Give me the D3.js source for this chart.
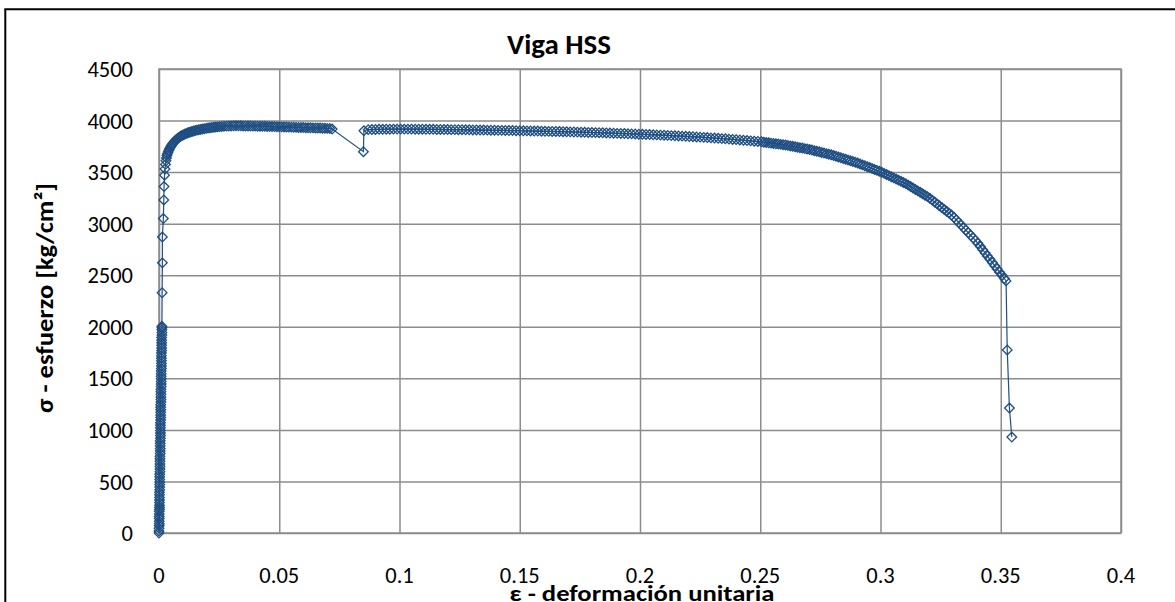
<!DOCTYPE html>
<html>
<head>
<meta charset="utf-8">
<script src="https://cdn.jsdelivr.net/npm/d3@7"></script>
<style>
  html, body { margin: 0; padding: 0; background: #fff; overflow: hidden; }
  svg { display: block; }
  text { font-family: Carlito, Calibri, Lato, "Open Sans", sans-serif; fill: #000; }
</style>
</head>
<body>
<svg id="chart" width="1175" height="602"></svg>
<script>
// ---- data ----
const title = "Viga HSS";
const xLabel = "ε - deformación unitaria";
const yLabel = "σ - esfuerzo [kg/cm²]";
const xTicks = [0, 0.05, 0.1, 0.15, 0.2, 0.25, 0.3, 0.35, 0.4];
const xTickLabels = ["0", "0.05", "0.1", "0.15", "0.2", "0.25", "0.3", "0.35", "0.4"];
const yTicks = [0, 500, 1000, 1500, 2000, 2500, 3000, 3500, 4000, 4500];

// elastic branch (dense readings)
const strainElastic = [
  0.0000, 0.0000, 0.0000, 0.0001, 0.0001, 0.0001, 0.0001, 0.0001, 0.0001, 0.0001,
  0.0002, 0.0002, 0.0002, 0.0002, 0.0002, 0.0002, 0.0002, 0.0002, 0.0003, 0.0003,
  0.0003, 0.0003, 0.0003, 0.0003, 0.0003, 0.0004, 0.0004, 0.0004, 0.0004, 0.0004,
  0.0004, 0.0004, 0.0005, 0.0005, 0.0005, 0.0005, 0.0005, 0.0005, 0.0006, 0.0006,
  0.0006, 0.0006, 0.0006, 0.0006, 0.0006, 0.0007, 0.0007, 0.0007, 0.0007, 0.0007,
  0.0007, 0.0007, 0.0008, 0.0008, 0.0008, 0.0008, 0.0008, 0.0008, 0.0009, 0.0009,
  0.0009, 0.0009, 0.0009, 0.0009, 0.0009, 0.0010, 0.0010, 0.0010, 0.0010, 0.0010,
  0.0010, 0.0010, 0.0011, 0.0011, 0.0011, 0.0011, 0.0011, 0.0011, 0.0012, 0.0012,
  0.0012, 0.0012, 0.0012];
const stressElastic = [
  0, 20, 45, 70, 90, 115, 140, 160, 185, 210,
  230, 250, 270, 295, 320, 345, 370, 395, 420, 445,
  470, 495, 520, 545, 570, 595, 620, 645, 670, 695,
  720, 745, 770, 795, 820, 845, 870, 895, 920, 945,
  970, 995, 1020, 1045, 1070, 1095, 1120, 1145, 1170, 1195,
  1220, 1245, 1270, 1295, 1320, 1345, 1370, 1395, 1420, 1445,
  1470, 1495, 1520, 1545, 1570, 1595, 1620, 1645, 1670, 1695,
  1720, 1745, 1770, 1795, 1820, 1845, 1870, 1895, 1920, 1945,
  1970, 1990, 2005];

// yielding and first plateau
const strainYield = [
  0.0013, 0.0014, 0.0014, 0.0018, 0.0020, 0.0021, 0.0023, 0.0025, 0.0027, 0.0029,
  0.0031, 0.0033, 0.0035, 0.0038, 0.0041, 0.0044, 0.0047, 0.0050, 0.0053, 0.0056,
  0.0060, 0.0064, 0.0068, 0.0072, 0.0076, 0.0080, 0.0085, 0.0090, 0.0095, 0.0100,
  0.0106, 0.0112, 0.0118, 0.0124, 0.0130, 0.0137, 0.0144, 0.0151, 0.0158, 0.0165,
  0.0172, 0.0180, 0.0188, 0.0196, 0.0204, 0.0212, 0.0220, 0.0228, 0.0236, 0.0244,
  0.0252, 0.0260, 0.0270, 0.0280, 0.0290, 0.0300, 0.0310, 0.0320, 0.0330, 0.0340,
  0.0350, 0.0360, 0.0370, 0.0380, 0.0390, 0.0400, 0.0410, 0.0420, 0.0430, 0.0440,
  0.0450, 0.0460, 0.0470, 0.0480, 0.0490, 0.0500, 0.0510, 0.0520, 0.0530, 0.0540,
  0.0550, 0.0560, 0.0570, 0.0580, 0.0590, 0.0600, 0.0610, 0.0620, 0.0630, 0.0640,
  0.0650, 0.0660, 0.0670, 0.0680, 0.0690, 0.0700, 0.0710, 0.0720];
const stressYield = [
  2330, 2620, 2870, 3050, 3230, 3360, 3470, 3530, 3575, 3610,
  3638, 3660, 3678, 3695, 3712, 3727, 3740, 3752, 3763, 3773,
  3785, 3796, 3806, 3815, 3823, 3831, 3839, 3847, 3854, 3860,
  3867, 3873, 3879, 3884, 3889, 3894, 3899, 3903, 3907, 3911,
  3914, 3918, 3921, 3924, 3927, 3930, 3933, 3935, 3937, 3939,
  3941, 3943, 3945, 3946, 3947, 3948, 3949, 3949, 3949, 3949,
  3948, 3948, 3947, 3947, 3946, 3946, 3945, 3945, 3944, 3944,
  3943, 3942, 3942, 3941, 3940, 3939, 3939, 3938, 3937, 3936,
  3936, 3935, 3934, 3933, 3933, 3932, 3931, 3930, 3930, 3929,
  3928, 3927, 3927, 3926, 3925, 3924, 3923, 3918];

// drop / recovery
const strainGap = [0.0850, 0.0852];
const stressGap = [3698, 3901];

// second plateau
const strainPlateau = [
  0.0870, 0.0885, 0.0900, 0.0915, 0.0930, 0.0945, 0.0960, 0.0975, 0.0990, 0.1005,
  0.1020, 0.1035, 0.1050, 0.1065, 0.1080, 0.1095, 0.1110, 0.1125, 0.1140, 0.1155,
  0.1170, 0.1185, 0.1200, 0.1215, 0.1230, 0.1245, 0.1260, 0.1275, 0.1290, 0.1305,
  0.1320, 0.1335, 0.1350, 0.1365, 0.1380, 0.1395, 0.1410, 0.1425, 0.1440, 0.1455,
  0.1470, 0.1485, 0.1500, 0.1515, 0.1530, 0.1545, 0.1560, 0.1575, 0.1590, 0.1605,
  0.1620, 0.1635, 0.1650, 0.1665, 0.1680, 0.1695, 0.1710, 0.1725, 0.1740, 0.1755,
  0.1770, 0.1785, 0.1800, 0.1815, 0.1830, 0.1845, 0.1860, 0.1875, 0.1890, 0.1905,
  0.1920, 0.1935, 0.1950, 0.1965, 0.1980, 0.1995, 0.2010, 0.2025, 0.2040, 0.2055,
  0.2070, 0.2085, 0.2100, 0.2115, 0.2130, 0.2145, 0.2160, 0.2175, 0.2190, 0.2205,
  0.2220, 0.2235, 0.2250, 0.2265, 0.2280, 0.2295, 0.2310, 0.2325, 0.2340, 0.2355,
  0.2370, 0.2385, 0.2400, 0.2415, 0.2430, 0.2445, 0.2460, 0.2475, 0.2490, 0.2505];
const stressPlateau = [
  3912, 3913, 3914, 3915, 3915, 3916, 3916, 3917, 3917, 3917,
  3917, 3917, 3917, 3916, 3916, 3916, 3915, 3915, 3915, 3914,
  3914, 3913, 3913, 3912, 3912, 3911, 3911, 3910, 3910, 3909,
  3909, 3908, 3908, 3907, 3906, 3906, 3905, 3905, 3904, 3903,
  3903, 3902, 3901, 3901, 3900, 3899, 3898, 3898, 3897, 3896,
  3895, 3894, 3894, 3893, 3892, 3891, 3890, 3889, 3888, 3887,
  3886, 3885, 3884, 3883, 3882, 3881, 3880, 3879, 3877, 3876,
  3875, 3874, 3872, 3871, 3870, 3868, 3867, 3865, 3864, 3862,
  3861, 3859, 3858, 3856, 3854, 3852, 3851, 3849, 3847, 3845,
  3843, 3841, 3839, 3837, 3835, 3832, 3830, 3828, 3825, 3823,
  3820, 3817, 3815, 3812, 3809, 3806, 3803, 3800, 3797, 3794];

// softening / necking branch
const strainNeck = [
  0.2515, 0.2525, 0.2535, 0.2545, 0.2555, 0.2565, 0.2575, 0.2585, 0.2595, 0.2605,
  0.2615, 0.2625, 0.2635, 0.2645, 0.2655, 0.2665, 0.2675, 0.2685, 0.2695, 0.2705,
  0.2715, 0.2725, 0.2735, 0.2745, 0.2755, 0.2765, 0.2775, 0.2785, 0.2795, 0.2805,
  0.2815, 0.2825, 0.2835, 0.2845, 0.2855, 0.2865, 0.2875, 0.2885, 0.2895, 0.2905,
  0.2915, 0.2925, 0.2935, 0.2945, 0.2955, 0.2965, 0.2975, 0.2985, 0.2995, 0.3005,
  0.3015, 0.3025, 0.3035, 0.3045, 0.3055, 0.3065, 0.3075, 0.3085, 0.3095, 0.3105,
  0.3115, 0.3125, 0.3135, 0.3145, 0.3155, 0.3165, 0.3175, 0.3185, 0.3195, 0.3205,
  0.3215, 0.3225, 0.3235, 0.3245, 0.3255, 0.3265, 0.3275, 0.3285, 0.3295, 0.3305,
  0.3315, 0.3325, 0.3335, 0.3345, 0.3355, 0.3365, 0.3375, 0.3385, 0.3395, 0.3405,
  0.3415, 0.3425, 0.3435, 0.3445, 0.3455, 0.3465, 0.3475, 0.3485, 0.3495, 0.3505,
  0.3515, 0.3522];
const stressNeck = [
  3790, 3787, 3784, 3781, 3778, 3775, 3772, 3769, 3766, 3763,
  3759, 3754, 3750, 3746, 3741, 3737, 3733, 3728, 3724, 3719,
  3714, 3708, 3702, 3697, 3691, 3685, 3679, 3674, 3668, 3661,
  3654, 3647, 3639, 3632, 3625, 3617, 3610, 3603, 3596, 3588,
  3579, 3570, 3561, 3552, 3544, 3535, 3526, 3517, 3508, 3499,
  3488, 3477, 3466, 3455, 3444, 3433, 3422, 3411, 3400, 3388,
  3374, 3360, 3346, 3332, 3318, 3304, 3290, 3276, 3262, 3246,
  3228, 3210, 3192, 3174, 3156, 3138, 3120, 3102, 3084, 3062,
  3037, 3012, 2987, 2962, 2937, 2912, 2887, 2862, 2837, 2809,
  2778, 2747, 2716, 2685, 2654, 2623, 2592, 2561, 2530, 2499,
  2468, 2445];

// fracture
const strainFracture = [0.3527, 0.3536, 0.3546];
const stressFracture = [1775, 1212, 931];

// ---- build series ----
const strain = [].concat(strainElastic, strainYield, strainGap, strainPlateau, strainNeck, strainFracture);
const stress = [].concat(stressElastic, stressYield, stressGap, stressPlateau, stressNeck, stressFracture);
const points = strain.map((e, i) => ({ e: e, s: stress[i] }));

// ---- layout ----
const svg = d3.select("#chart");
const plot = { left: 159, top: 69, right: 1121, bottom: 533 };
const lineColor = "#1f4e82";

// outer chart border (left and top edges are the only visible ones)
svg.append("line").attr("x1", 5.3).attr("y1", 9.3).attr("x2", 5.3).attr("y2", 610)
  .attr("stroke", "#000").attr("stroke-width", 2);
svg.append("line").attr("x1", 4.3).attr("y1", 9.3).attr("x2", 1180).attr("y2", 9.3)
  .attr("stroke", "#000").attr("stroke-width", 2);

const x = d3.scaleLinear().domain([0, 0.4]).range([plot.left, plot.right]);
const y = d3.scaleLinear().domain([0, 4500]).range([plot.bottom, plot.top]);

// gridlines via axes
const gridColor = "#8c8c8c";
const gx = svg.append("g")
  .attr("transform", `translate(0,${plot.bottom})`)
  .call(d3.axisBottom(x).tickValues(xTicks)
    .tickSize(-(plot.bottom - plot.top)).tickFormat(""));
gx.select(".domain").remove();
gx.selectAll("line").attr("stroke", gridColor).attr("stroke-width", 1.5);

const gy = svg.append("g")
  .attr("transform", `translate(${plot.left},0)`)
  .call(d3.axisLeft(y).tickValues(yTicks)
    .tickSize(-(plot.right - plot.left)).tickFormat(""));
gy.select(".domain").remove();
gy.selectAll("line").attr("stroke", gridColor).attr("stroke-width", 1.5);

svg.append("rect")
  .attr("x", plot.left).attr("y", plot.top)
  .attr("width", plot.right - plot.left).attr("height", plot.bottom - plot.top)
  .attr("fill", "none").attr("stroke", gridColor).attr("stroke-width", 1.5);

// tick labels
const labelSize = 22.5;
svg.append("g").selectAll("text")
  .data(yTicks).join("text")
  .attr("x", 133)
  .attr("y", d => y(d))
  .attr("dy", "0.36em")
  .attr("text-anchor", "end")
  .attr("font-size", labelSize)
  .text(d => d);

svg.append("g").selectAll("text")
  .data(xTicks).join("text")
  .attr("x", d => x(d))
  .attr("y", 583)
  .attr("text-anchor", "middle")
  .attr("font-size", labelSize)
  .text((d, i) => xTickLabels[i]);

// series line
const line = d3.line().x(d => x(d.e)).y(d => y(d.s));
svg.append("path")
  .datum(points)
  .attr("d", line)
  .attr("fill", "none")
  .attr("stroke", lineColor)
  .attr("stroke-width", 1.2);

// diamond markers (Excel style, open)
const sym = d3.symbol().type(d3.symbolSquare).size(46);
svg.append("g").selectAll("path")
  .data(points).join("path")
  .attr("d", sym)
  .attr("transform", d => `translate(${x(d.e)},${y(d.s)}) rotate(45)`)
  .attr("fill", "none")
  .attr("stroke", lineColor)
  .attr("stroke-width", 1.3);

// titles
svg.append("text")
  .attr("x", 559).attr("y", 54)
  .attr("text-anchor", "middle")
  .attr("font-size", 28).attr("font-weight", "bold")
  .attr("textLength", 104).attr("lengthAdjust", "spacingAndGlyphs")
  .text(title);

svg.append("text")
  .attr("x", 642).attr("y", 601)
  .attr("text-anchor", "middle")
  .attr("font-size", 22).attr("font-weight", "bold")
  .attr("textLength", 265).attr("lengthAdjust", "spacingAndGlyphs")
  .text(xLabel);

svg.append("text")
  .attr("transform", "translate(53,298) rotate(-90)")
  .attr("text-anchor", "middle")
  .attr("font-size", 24).attr("font-weight", "bold")
  .attr("textLength", 230).attr("lengthAdjust", "spacingAndGlyphs")
  .text(yLabel);
</script>
</body>
</html>
